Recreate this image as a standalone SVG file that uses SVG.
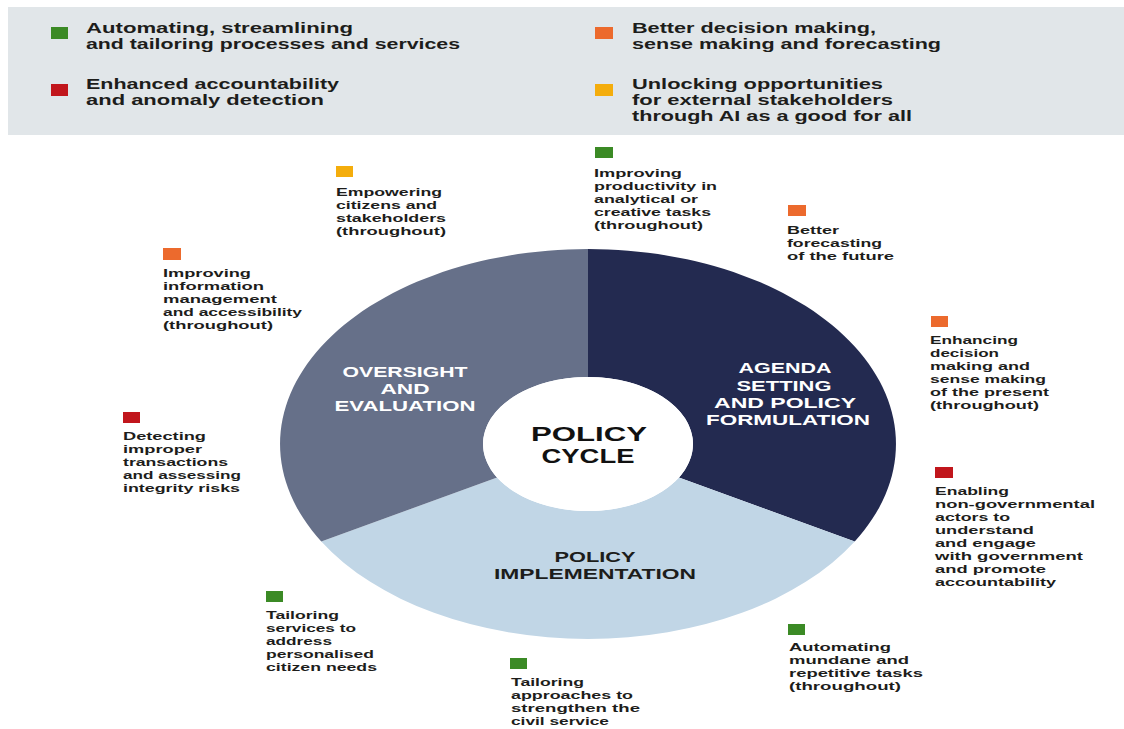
<svg xmlns="http://www.w3.org/2000/svg" width="1124" height="729" viewBox="0 0 1124 729">
<defs>
<style>
text{font-family:"Liberation Sans",Arial,sans-serif;font-weight:700;fill:#1d1d1b;}
.h{font-size:14.2px;}
.s{font-size:11.6px;}
.r{font-size:15px;fill:#ffffff;text-anchor:middle;}
.c{font-size:19.6px;fill:#111111;text-anchor:middle;}
.ri{font-size:15px;fill:#1d1d1b;text-anchor:middle;}
.g{fill:#3b8a25;}
.o{fill:#ec6a2d;}
.rd{fill:#c1161c;}
.y{fill:#f4ad0c;}
</style>
</defs>
<rect width="1124" height="729" fill="#ffffff"/>
<g id="legend">
<rect x="8" y="7" width="1116" height="128" fill="#e1e6e9"/>
<rect class="g" x="51" y="27" width="17" height="12"/>
<text class="h"><tspan x="86" y="33" textLength="267" lengthAdjust="spacingAndGlyphs">Automating, streamlining</tspan><tspan x="86" y="49" textLength="374" lengthAdjust="spacingAndGlyphs">and tailoring processes and services</tspan></text>
<rect class="rd" x="51" y="84" width="17" height="12"/>
<text class="h"><tspan x="86" y="89" textLength="253" lengthAdjust="spacingAndGlyphs">Enhanced accountability</tspan><tspan x="86" y="105" textLength="238" lengthAdjust="spacingAndGlyphs">and anomaly detection</tspan></text>
<rect class="o" x="595" y="27" width="18" height="12"/>
<text class="h"><tspan x="632" y="33" textLength="244" lengthAdjust="spacingAndGlyphs">Better decision making,</tspan><tspan x="632" y="49" textLength="309" lengthAdjust="spacingAndGlyphs">sense making and forecasting</tspan></text>
<rect class="y" x="595" y="84" width="18" height="12"/>
<text class="h"><tspan x="632" y="89" textLength="251" lengthAdjust="spacingAndGlyphs">Unlocking opportunities</tspan><tspan x="632" y="105" textLength="261" lengthAdjust="spacingAndGlyphs">for external stakeholders</tspan><tspan x="632" y="121" textLength="280" lengthAdjust="spacingAndGlyphs">through AI as a good for all</tspan></text>
</g>
<g id="agenda-setting">
<path d="M588 249 A308 195 0 0 1 854.7 541.5 L678.9 477.5 A105 67 0 0 0 588 377 Z" fill="#232a50"/>
<text class="r"><tspan x="785" y="373" textLength="93" lengthAdjust="spacingAndGlyphs">AGENDA</tspan><tspan x="784" y="391" textLength="95" lengthAdjust="spacingAndGlyphs">SETTING</tspan><tspan x="785" y="408" textLength="142" lengthAdjust="spacingAndGlyphs">AND  POLICY</tspan><tspan x="788" y="425" textLength="164" lengthAdjust="spacingAndGlyphs">FORMULATION</tspan></text>
</g>
<g id="policy-implementation">
<path d="M854.7 541.5 A308 195 0 0 1 321.3 541.5 L497.1 477.5 A105 67 0 0 0 678.9 477.5 Z" fill="#c1d6e6"/>
<text class="ri"><tspan x="595" y="562" textLength="81" lengthAdjust="spacingAndGlyphs">POLICY</tspan><tspan x="595" y="579" textLength="202" lengthAdjust="spacingAndGlyphs">IMPLEMENTATION</tspan></text>
</g>
<g id="oversight-evaluation">
<path d="M321.3 541.5 A308 195 0 0 1 588 249 L588 377 A105 67 0 0 0 497.1 477.5 Z" fill="#667089"/>
<text class="r"><tspan x="405" y="377" textLength="125" lengthAdjust="spacingAndGlyphs">OVERSIGHT</tspan><tspan x="405" y="394" textLength="49" lengthAdjust="spacingAndGlyphs">AND</tspan><tspan x="405" y="411" textLength="141" lengthAdjust="spacingAndGlyphs">EVALUATION</tspan></text>
</g>
<g id="policy-cycle">
<ellipse cx="588" cy="444" rx="105" ry="67" fill="#ffffff"/>
<text class="c"><tspan x="589" y="441" textLength="116" lengthAdjust="spacingAndGlyphs">POLICY</tspan><tspan x="588" y="463" textLength="93" lengthAdjust="spacingAndGlyphs">CYCLE</tspan></text>
</g>
<g id="empowering-citizens">
<rect class="y" x="336" y="166" width="17" height="11"/>
<text class="s"><tspan x="336" y="196" textLength="106" lengthAdjust="spacingAndGlyphs">Empowering</tspan><tspan x="336" y="209" textLength="101" lengthAdjust="spacingAndGlyphs">citizens and</tspan><tspan x="336" y="222" textLength="110" lengthAdjust="spacingAndGlyphs">stakeholders</tspan><tspan x="336" y="235" textLength="110" lengthAdjust="spacingAndGlyphs">(throughout)</tspan></text>
</g>
<g id="improving-information">
<rect class="o" x="163" y="248" width="18" height="12"/>
<text class="s"><tspan x="163" y="277" textLength="88" lengthAdjust="spacingAndGlyphs">Improving</tspan><tspan x="163" y="290" textLength="101" lengthAdjust="spacingAndGlyphs">information</tspan><tspan x="163" y="303" textLength="114" lengthAdjust="spacingAndGlyphs">management</tspan><tspan x="163" y="316" textLength="139" lengthAdjust="spacingAndGlyphs">and accessibility</tspan><tspan x="163" y="329" textLength="110" lengthAdjust="spacingAndGlyphs">(throughout)</tspan></text>
</g>
<g id="improving-productivity">
<rect class="g" x="595" y="147" width="18" height="11"/>
<text class="s"><tspan x="594" y="177" textLength="88" lengthAdjust="spacingAndGlyphs">Improving</tspan><tspan x="594" y="190" textLength="123" lengthAdjust="spacingAndGlyphs">productivity in</tspan><tspan x="594" y="203" textLength="104" lengthAdjust="spacingAndGlyphs">analytical or</tspan><tspan x="594" y="216" textLength="117" lengthAdjust="spacingAndGlyphs">creative tasks</tspan><tspan x="594" y="229" textLength="109" lengthAdjust="spacingAndGlyphs">(throughout)</tspan></text>
</g>
<g id="better-forecasting">
<rect class="o" x="788" y="205" width="18" height="11"/>
<text class="s"><tspan x="787" y="234" textLength="52" lengthAdjust="spacingAndGlyphs">Better</tspan><tspan x="787" y="247" textLength="95" lengthAdjust="spacingAndGlyphs">forecasting</tspan><tspan x="787" y="260" textLength="107" lengthAdjust="spacingAndGlyphs">of the future</tspan></text>
</g>
<g id="enhancing-decision">
<rect class="o" x="931" y="316" width="17" height="11"/>
<text class="s"><tspan x="930" y="344" textLength="88" lengthAdjust="spacingAndGlyphs">Enhancing</tspan><tspan x="930" y="357" textLength="69" lengthAdjust="spacingAndGlyphs">decision</tspan><tspan x="930" y="370" textLength="100" lengthAdjust="spacingAndGlyphs">making and</tspan><tspan x="930" y="383" textLength="116" lengthAdjust="spacingAndGlyphs">sense making</tspan><tspan x="930" y="396" textLength="119" lengthAdjust="spacingAndGlyphs">of the present</tspan><tspan x="930" y="409" textLength="109" lengthAdjust="spacingAndGlyphs">(throughout)</tspan></text>
</g>
<g id="detecting-transactions">
<rect class="rd" x="123" y="412" width="17" height="11"/>
<text class="s"><tspan x="123" y="440" textLength="83" lengthAdjust="spacingAndGlyphs">Detecting</tspan><tspan x="123" y="453" textLength="79" lengthAdjust="spacingAndGlyphs">improper</tspan><tspan x="123" y="466" textLength="105" lengthAdjust="spacingAndGlyphs">transactions</tspan><tspan x="123" y="479" textLength="118" lengthAdjust="spacingAndGlyphs">and assessing</tspan><tspan x="123" y="492" textLength="117" lengthAdjust="spacingAndGlyphs">integrity risks</tspan></text>
</g>
<g id="enabling-actors">
<rect class="rd" x="935" y="467" width="18" height="11"/>
<text class="s"><tspan x="935" y="495" textLength="74" lengthAdjust="spacingAndGlyphs">Enabling</tspan><tspan x="935" y="508" textLength="160" lengthAdjust="spacingAndGlyphs">non-governmental</tspan><tspan x="935" y="521" textLength="75" lengthAdjust="spacingAndGlyphs">actors to</tspan><tspan x="935" y="534" textLength="99" lengthAdjust="spacingAndGlyphs">understand</tspan><tspan x="935" y="547" textLength="101" lengthAdjust="spacingAndGlyphs">and engage</tspan><tspan x="935" y="560" textLength="148" lengthAdjust="spacingAndGlyphs">with government</tspan><tspan x="935" y="573" textLength="111" lengthAdjust="spacingAndGlyphs">and promote</tspan><tspan x="935" y="586" textLength="121" lengthAdjust="spacingAndGlyphs">accountability</tspan></text>
</g>
<g id="tailoring-services">
<rect class="g" x="266" y="591" width="17" height="11"/>
<text class="s"><tspan x="266" y="619" textLength="73" lengthAdjust="spacingAndGlyphs">Tailoring</tspan><tspan x="266" y="632" textLength="90" lengthAdjust="spacingAndGlyphs">services to</tspan><tspan x="266" y="645" textLength="66" lengthAdjust="spacingAndGlyphs">address</tspan><tspan x="266" y="658" textLength="108" lengthAdjust="spacingAndGlyphs">personalised</tspan><tspan x="266" y="671" textLength="111" lengthAdjust="spacingAndGlyphs">citizen needs</tspan></text>
</g>
<g id="automating-tasks">
<rect class="g" x="788" y="624" width="17" height="11"/>
<text class="s"><tspan x="789" y="651" textLength="102" lengthAdjust="spacingAndGlyphs">Automating</tspan><tspan x="789" y="664" textLength="120" lengthAdjust="spacingAndGlyphs">mundane and</tspan><tspan x="789" y="677" textLength="134" lengthAdjust="spacingAndGlyphs">repetitive tasks</tspan><tspan x="789" y="690" textLength="112" lengthAdjust="spacingAndGlyphs">(throughout)</tspan></text>
</g>
<g id="tailoring-approaches">
<rect class="g" x="510" y="658" width="17" height="11"/>
<text class="s"><tspan x="511" y="686" textLength="73" lengthAdjust="spacingAndGlyphs">Tailoring</tspan><tspan x="511" y="699" textLength="122" lengthAdjust="spacingAndGlyphs">approaches to</tspan><tspan x="511" y="712" textLength="129" lengthAdjust="spacingAndGlyphs">strengthen the</tspan><tspan x="511" y="725" textLength="98" lengthAdjust="spacingAndGlyphs">civil service</tspan></text>
</g>
</svg>
